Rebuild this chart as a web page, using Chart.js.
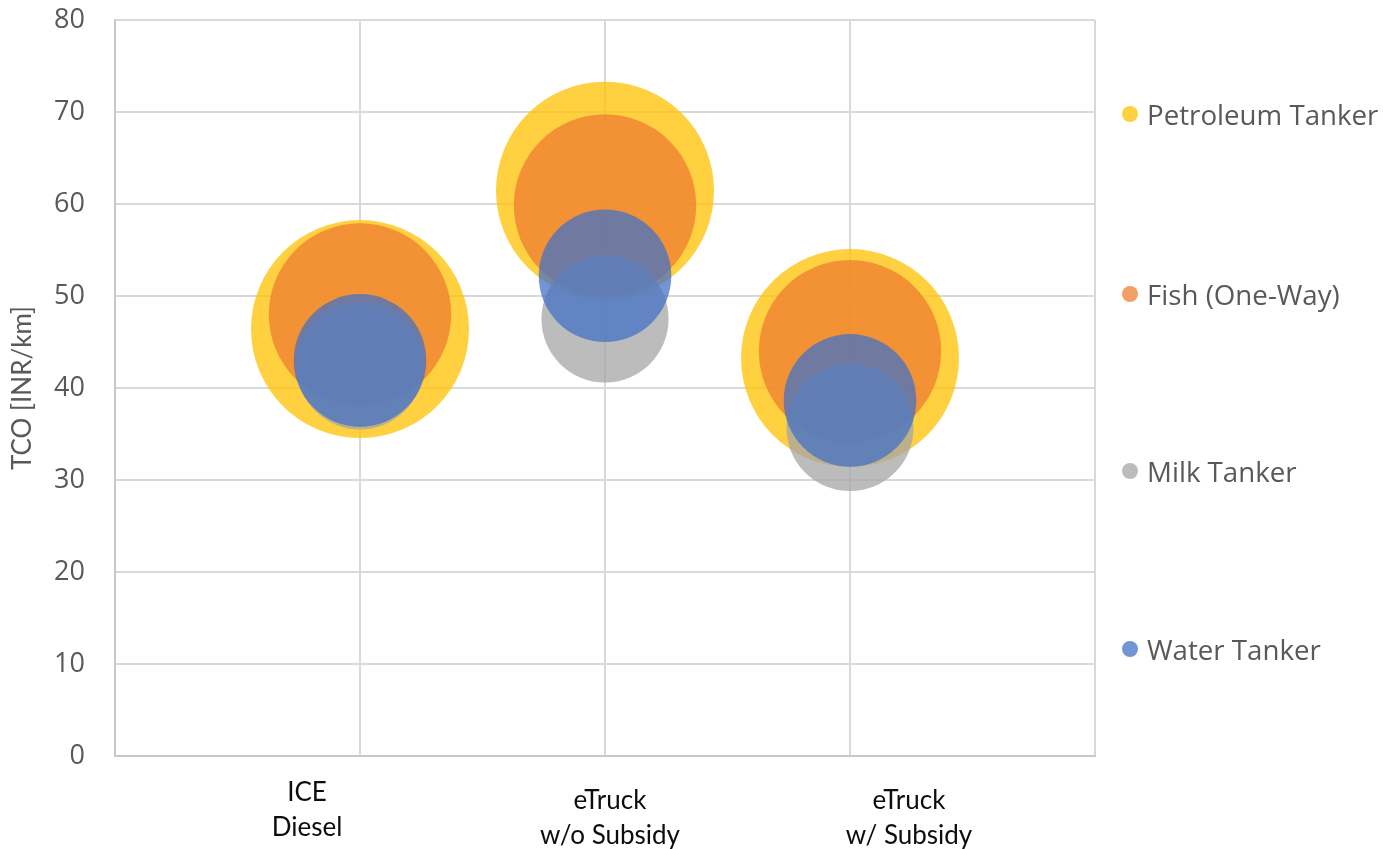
<!DOCTYPE html>
<html>
<head>
<meta charset="utf-8">
<title>TCO bubble chart</title>
<script src="https://cdn.jsdelivr.net/npm/chart.js"></script>
<style>
  html, body { margin: 0; padding: 0; background: #fff; }
  #wrap { width: 1383px; height: 849px; }
</style>
</head>
<body>
<div id="wrap"><canvas id="chart" width="1383" height="849"></canvas></div>
<script>
// categories sit at x = 1, 2, 3 on a 0..4 axis
const categories = [['ICE', 'Diesel'], ['eTruck', 'w/o Subsidy'], ['eTruck', 'w/ Subsidy']];
const categoryX = [1, 2, 3];
const seriesNames = ['Petroleum Tanker', 'Fish (One-Way)', 'Milk Tanker', 'Water Tanker'];

// TCO values [INR/km]
const petroleumTco = [46.4, 61.45, 43.25];
const fishTco = [48.0, 59.85, 44.0];
const milkTco = [42.4, 47.5, 35.7];
const waterTco = [43.0, 52.2, 38.65];

// relative bubble sizes (area)
const petroleumSize = [100, 100, 100];
const fishSize = [70, 70, 70];
const milkSize = [34, 34, 34];
const waterSize = [37, 37, 37];

const yTicks = [0, 10, 20, 30, 40, 50, 60, 70, 80];

const MAX_R = 109;
const MAX_SIZE = 100;

function toPoints(values, sizes) {
  return values.map((v, i) => ({ x: categoryX[i], y: v, r: MAX_R * Math.sqrt(sizes[i] / MAX_SIZE) }));
}

const colors = ['rgba(255,192,0,0.75)', 'rgba(237,125,49,0.75)', 'rgba(165,165,165,0.75)', 'rgba(68,114,196,0.75)'];

// x category captions + legend, drawn like the original text boxes
const textPlugin = {
  id: 'textBoxes',
  afterDraw(chart) {
    const ctx = chart.ctx;
    const xs = chart.scales.x;
    const shifts = [-53, 5, 59];
    const tops = [801, 809, 809];
    ctx.save();
    ctx.fillStyle = '#0d0d0d';
    ctx.font = '26px Lato';
    ctx.textAlign = 'center';
    ctx.textBaseline = 'alphabetic';
    categories.forEach((lines, i) => {
      const cx = xs.getPixelForValue(categoryX[i]) + shifts[i];
      lines.forEach((t, j) => ctx.fillText(t, cx, tops[i] + j * 35));
    });

    const legendY = [114, 294, 471, 649];
    ctx.textAlign = 'left';
    ctx.font = '27.7px "Open Sans"';
    chart.data.datasets.forEach((ds, i) => {
      ctx.fillStyle = ds.backgroundColor;
      ctx.beginPath();
      ctx.arc(1130, legendY[i], 8, 0, Math.PI * 2);
      ctx.fill();
      ctx.fillStyle = '#595959';
      ctx.fillText(ds.label, 1147, legendY[i] + 11);
    });
    ctx.restore();
  }
};

const datasets = [
  { label: seriesNames[0], data: toPoints(petroleumTco, petroleumSize), order: 3 },
  { label: seriesNames[1], data: toPoints(fishTco, fishSize), order: 2 },
  { label: seriesNames[2], data: toPoints(milkTco, milkSize), order: 1 },
  { label: seriesNames[3], data: toPoints(waterTco, waterSize), order: 0 }
].map((ds, i) => Object.assign(ds, {
  backgroundColor: colors[i],
  borderWidth: 0,
  hoverBorderWidth: 0
}));

new Chart(document.getElementById('chart').getContext('2d'), {
  type: 'bubble',
  data: { datasets },
  plugins: [textPlugin],
  options: {
    responsive: false,
    animation: false,
    events: [],
    layout: { autoPadding: false, padding: { top: 20, right: 288, left: 0, bottom: 0 } },
    plugins: { legend: { display: false }, tooltip: { enabled: false } },
    scales: {
      x: {
        type: 'linear',
        min: 0,
        max: 4,
        ticks: { stepSize: 1, callback: () => '', padding: 0 },
        grid: { color: '#d9d9d9', lineWidth: 2, drawTicks: false },
        border: { color: '#c8c8c8', width: 2 },
        afterFit(scale) {
          scale.height = 93;
          scale.paddingLeft = 0;
          scale.paddingRight = 0;
        }
      },
      y: {
        min: 0,
        max: 80,
        afterBuildTicks(scale) { scale.ticks = yTicks.map(v => ({ value: v })); },
        ticks: {
          padding: 30,
          color: '#595959',
          font: { family: 'Open Sans', size: 27 }
        },
        grid: { color: '#d9d9d9', lineWidth: 2, drawTicks: false },
        border: { color: '#c8c8c8', width: 2 },
        title: {
          display: true,
          text: 'TCO [INR/km]',
          color: '#595959',
          font: { family: 'Lato', size: 26 },
          padding: { top: 7, bottom: 0 }
        },
        afterFit(scale) {
          scale.width = 115;
          scale.paddingTop = 0;
          scale.paddingBottom = 0;
        }
      }
    }
  }
});
</script>
</body>
</html>
